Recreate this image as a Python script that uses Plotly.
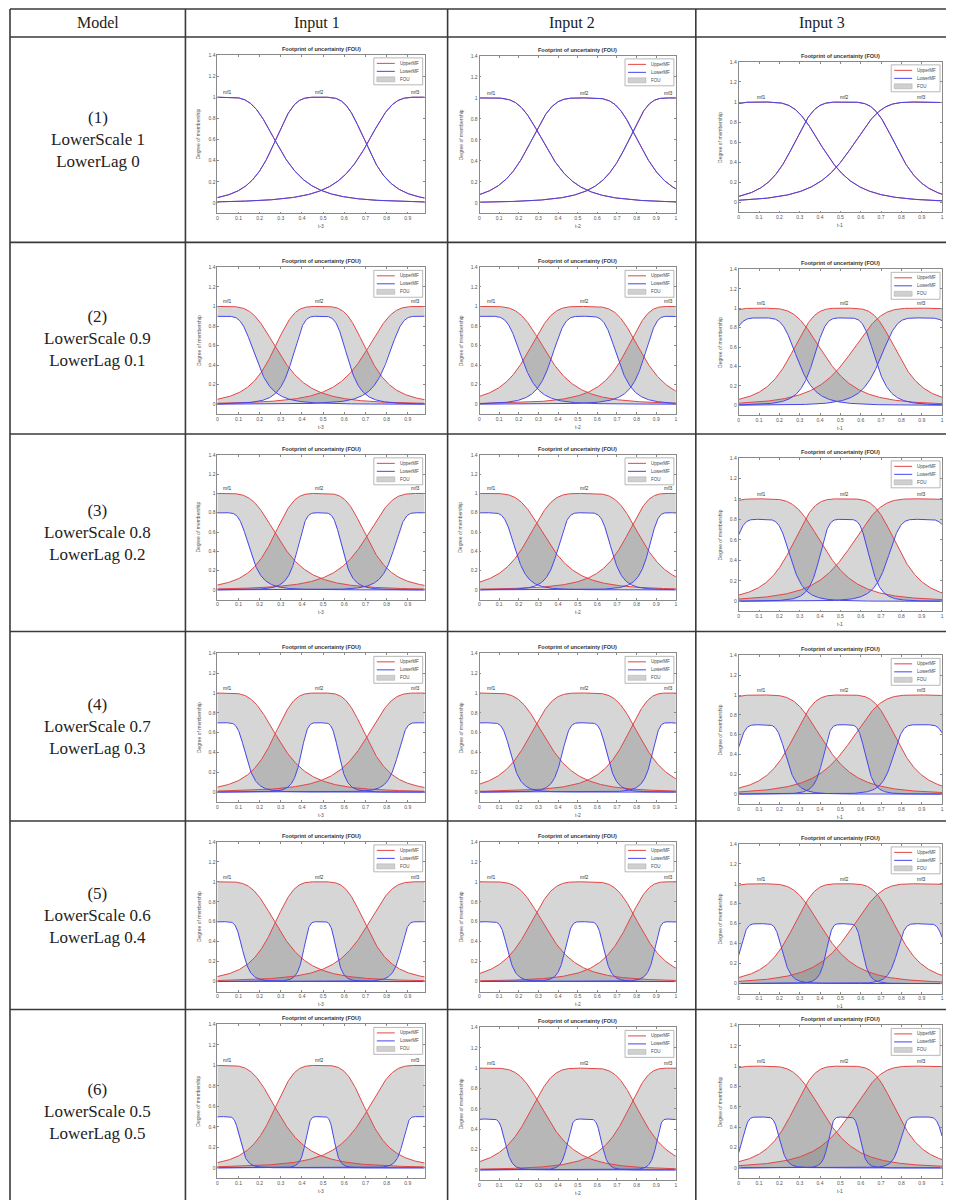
import numpy as np
import plotly.graph_objects as go

W, H = 954, 1200
PAGE_OFF = 8  # default page margin of the html body
FW, FH = W - PAGE_OFF, H - PAGE_OFF

# ---------------- data ----------------
column_headers = ["Model", "Input 1", "Input 2", "Input 3"]
model_ids = ["(1)", "(2)", "(3)", "(4)", "(5)", "(6)"]
lower_scale = [1, 0.9, 0.8, 0.7, 0.6, 0.5]
lower_lag = [0, 0.1, 0.2, 0.3, 0.4, 0.5]
input_names = ["t-3", "t-2", "t-1"]
input_max = [0.98, 1.0, 1.0]
mf_names = ["mf1", "mf2", "mf3"]
# upper MFs (generalized bell): width a, slope b, centre c
upper_a = [[0.268, 0.231, 0.264], [0.309, 0.297, 0.236], [0.317, 0.269, 0.362]]
upper_b = [[1.855, 1.985, 1.785], [1.99, 2.075, 1.73], [1.99, 2.085, 2.095]]
upper_c = [[0.03, 0.485, 0.955], [0.04, 0.535, 0.97], [0.11, 0.52, 0.90]]
# lower MF width / slope relative to the upper MF, read per model row
lower_width = [1.0, 0.58, 0.47, 0.40, 0.34, 0.30]
lower_slope = [1.0, 1.1, 1.2, 1.3, 1.4, 1.5]
y_tick_vals = [0, 0.2, 0.4, 0.6, 0.8, 1, 1.2, 1.4]
y_tick_text = ["0", "0.2", "0.4", "0.6", "0.8", "1", "1.2", "1.4"]
x_tick_vals = [0, 0.1, 0.2, 0.3, 0.4, 0.5, 0.6, 0.7, 0.8, 0.9, 1.0]
x_tick_text = ["0", "0.1", "0.2", "0.3", "0.4", "0.5", "0.6", "0.7", "0.8", "0.9", "1"]
legend_items = ["UpperMF", "LowerMF", "FOU"]
plot_title = "Footprint of uncertainty (FOU)"
y_title = "Degree of membership"

# ---------------- layout geometry (page pixels) ----------------
col_lines = [9, 185, 448, 697, 950]
row_lines = [6, 34, 240, 432, 630, 820, 1009]
plot_x = [(217, 425), (480, 677), (740, 944)]
plot_y = [
    [(52, 211), (53, 211), (59, 210)],
    [(265, 412), (265, 412), (267, 413)],
    [(453, 598), (453, 598), (456, 610)],
    [(652, 801), (652, 801), (654, 803)],
    [(841, 991), (841, 991), (843, 993)],
    [(1024, 1178), (1027, 1180), (1025, 1178)],
]

RED = "rgb(225,70,70)"
BLUE = "rgb(70,70,235)"
FOU_FILL = "rgba(95,95,95,0.26)"
AX_COL = "#8a8a8a"
TXT_COL = "#555555"
SANS = "Liberation Sans, Arial, sans-serif"
SERIF = "Liberation Serif, Times New Roman, serif"


def px(x):
    return (x - PAGE_OFF) / FW


def py(y):
    return 1 - (y - PAGE_OFF) / FH


def gbell(x, a, b, c):
    return 1.0 / (1.0 + np.abs((x - c) / a) ** (2 * b))


fig = go.Figure()
annotations = []
shapes = []
layout_axes = {}

for r in range(6):
    for ci in range(3):
        k = r * 3 + ci + 1
        xs_name = "x" if k == 1 else f"x{k}"
        ys_name = "y" if k == 1 else f"y{k}"
        xa_key = "xaxis" if k == 1 else f"xaxis{k}"
        ya_key = "yaxis" if k == 1 else f"yaxis{k}"
        L, R = plot_x[ci]
        T, B = plot_y[r][ci]
        xmax = input_max[ci]
        xs = np.linspace(0, xmax, 500)
        uppers, lowers = [], []
        for m in range(3):
            a, b, c = upper_a[ci][m], upper_b[ci][m], upper_c[ci][m]
            up = gbell(xs, a, b, c)
            lo = lower_scale[r] * gbell(xs, a * lower_width[r], b * lower_slope[r], c)
            uppers.append(up)
            lowers.append(lo)
        # FOU fills
        for m in range(3):
            fig.add_trace(go.Scatter(
                x=np.concatenate([xs, xs[::-1]]),
                y=np.concatenate([uppers[m], lowers[m][::-1]]),
                fill="toself", fillcolor=FOU_FILL, line=dict(width=0),
                mode="lines", hoverinfo="skip", showlegend=False,
                xaxis=xs_name, yaxis=ys_name))
        for m in range(3):
            fig.add_trace(go.Scatter(x=xs, y=uppers[m], mode="lines",
                                     line=dict(color=RED, width=1),
                                     showlegend=False, hoverinfo="skip",
                                     xaxis=xs_name, yaxis=ys_name))
        for m in range(3):
            fig.add_trace(go.Scatter(x=xs, y=lowers[m], mode="lines",
                                     line=dict(color=BLUE, width=1),
                                     showlegend=False, hoverinfo="skip",
                                     xaxis=xs_name, yaxis=ys_name))
        nt = 10 if xmax < 1 else 11
        layout_axes[xa_key] = dict(
            domain=[px(L), px(R)], range=[0, xmax], anchor=ys_name,
            tickvals=x_tick_vals[:nt], ticktext=x_tick_text[:nt],
            ticks="inside", ticklen=2, tickcolor=AX_COL, showline=True,
            linecolor=AX_COL, linewidth=0.8, mirror="ticks", showgrid=False,
            zeroline=False, tickfont=dict(size=5, color=TXT_COL, family=SANS),
            ticklabeloverflow="allow", fixedrange=True)
        layout_axes[ya_key] = dict(
            domain=[py(B), py(T)], range=[-0.1, 1.4], anchor=xs_name,
            tickvals=y_tick_vals, ticktext=y_tick_text,
            ticks="inside", ticklen=2, tickcolor=AX_COL, showline=True,
            linecolor=AX_COL, linewidth=0.8, mirror="ticks", showgrid=False,
            zeroline=False, tickfont=dict(size=5, color=TXT_COL, family=SANS),
            ticklabeloverflow="allow", fixedrange=True)
        # title
        annotations.append(dict(x=px((L + R) / 2), y=py(T - 1), xref="paper", yref="paper",
                                text=f"<b>{plot_title}</b>", showarrow=False,
                                xanchor="center", yanchor="bottom",
                                font=dict(size=5.5, color="#333", family=SANS)))
        # axis titles
        annotations.append(dict(x=px(L - 19), y=py((T + B) / 2), xref="paper", yref="paper",
                                text=y_title, showarrow=False, textangle=-90,
                                xanchor="center", yanchor="middle",
                                font=dict(size=5, color=TXT_COL, family=SANS)))
        annotations.append(dict(x=px((L + R) / 2), y=py(B + 13), xref="paper", yref="paper",
                                text=input_names[ci], showarrow=False,
                                xanchor="center", yanchor="middle",
                                font=dict(size=5, color=TXT_COL, family=SANS)))
        # mf labels at the middle of the upper MF's plateau
        for m in range(3):
            top = xs[uppers[m] >= 0.995 * uppers[m].max()]
            annotations.append(dict(x=(top.min() + top.max()) / 2, y=1.0,
                                    xref=xs_name, yref=ys_name, text=mf_names[m],
                                    showarrow=False, xanchor="center", yanchor="bottom",
                                    yshift=0,
                                    font=dict(size=5, color="#333", family=SANS)))
        # legend box
        bx1, by0 = R - 2, T + 3
        bx0, by1 = bx1 - 49, by0 + 27
        shapes.append(dict(type="rect", xref="paper", yref="paper",
                           x0=px(bx0), x1=px(bx1), y0=py(by1), y1=py(by0),
                           line=dict(color="#999", width=0.7), fillcolor="white"))
        rows_y = [by0 + 5.5, by0 + 13.5, by0 + 21.5]
        shapes.append(dict(type="line", xref="paper", yref="paper",
                           x0=px(bx0 + 3), x1=px(bx0 + 21), y0=py(rows_y[0]), y1=py(rows_y[0]),
                           line=dict(color=RED, width=1)))
        shapes.append(dict(type="line", xref="paper", yref="paper",
                           x0=px(bx0 + 3), x1=px(bx0 + 21), y0=py(rows_y[1]), y1=py(rows_y[1]),
                           line=dict(color=BLUE, width=1)))
        shapes.append(dict(type="rect", xref="paper", yref="paper",
                           x0=px(bx0 + 3), x1=px(bx0 + 21), y0=py(rows_y[2] + 2.5), y1=py(rows_y[2] - 2.5),
                           line=dict(color="#aaa", width=0.5), fillcolor="#d0d0d0"))
        for j, lab in enumerate(legend_items):
            annotations.append(dict(x=px(bx0 + 24), y=py(rows_y[j]), xref="paper", yref="paper",
                                    text=lab, showarrow=False, xanchor="left", yanchor="middle",
                                    font=dict(size=4.5, color="#444", family=SANS)))

# ---------------- table ----------------
for y in row_lines:
    shapes.append(dict(type="line", xref="paper", yref="paper",
                       x0=px(col_lines[0]), x1=px(col_lines[-1]), y0=py(y), y1=py(y),
                       line=dict(color="#3a3a3a", width=1.6)))
for x in col_lines:
    shapes.append(dict(type="line", xref="paper", yref="paper",
                       x0=px(x), x1=px(x), y0=py(row_lines[0]), y1=py(H),
                       line=dict(color="#3a3a3a", width=1.6)))

for j, htxt in enumerate(column_headers):
    annotations.append(dict(x=px((col_lines[j] + col_lines[j + 1]) / 2), y=py(20),
                            xref="paper", yref="paper", text=htxt, showarrow=False,
                            xanchor="center", yanchor="middle",
                            font=dict(size=16, color="#222", family=SERIF)))

row_bottoms = row_lines[2:] + [1213]
for r in range(6):
    yc = (row_lines[r + 1] + row_bottoms[r]) / 2
    txt = f"{model_ids[r]}<br>LowerScale {lower_scale[r]}<br>LowerLag {lower_lag[r]}"
    annotations.append(dict(x=px((col_lines[0] + col_lines[1]) / 2), y=py(yc),
                            xref="paper", yref="paper", text=txt, showarrow=False,
                            xanchor="center", yanchor="middle", align="center",
                            font=dict(size=17, color="#222", family=SERIF)))

fig.update_layout(
    width=FW, height=FH, margin=dict(l=0, r=0, t=0, b=0),
    paper_bgcolor="white", plot_bgcolor="white", showlegend=False,
    annotations=annotations, shapes=shapes, **layout_axes)

fig.write_html("out.html")
